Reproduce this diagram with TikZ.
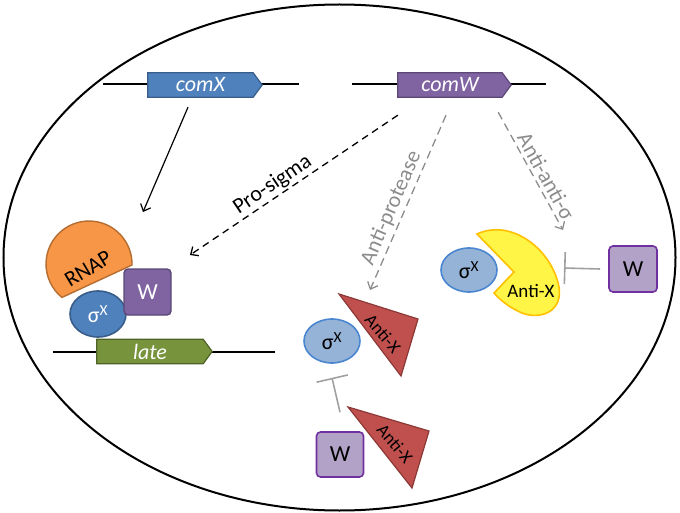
\documentclass[tikz,border=0pt]{standalone}
\usepackage{fontspec}
\setmainfont{Carlito}
\usetikzlibrary{arrows.meta,calc,shapes.geometric,backgrounds}
\definecolor{comxblue}{RGB}{79,129,189}
\definecolor{comxline}{RGB}{56,93,138}
\definecolor{comwpurple}{RGB}{128,100,162}
\definecolor{comwline}{RGB}{92,71,118}
\definecolor{lategreen}{RGB}{119,147,60}
\definecolor{lateline}{RGB}{79,98,40}
\definecolor{rnaporange}{RGB}{247,150,70}
\definecolor{rnapline}{RGB}{182,109,49}
\definecolor{sigmalight}{RGB}{149,179,215}
\definecolor{sigmaline}{RGB}{74,134,208}
\definecolor{antired}{RGB}{192,80,77}
\definecolor{antiline}{RGB}{140,56,54}
\definecolor{wlight}{RGB}{179,162,199}
\definecolor{wline}{RGB}{112,48,160}
\definecolor{pacyellow}{RGB}{255,245,70}
\definecolor{pacline}{RGB}{255,192,0}
\definecolor{arrowgray}{RGB}{140,140,140}
\definecolor{inhibgray}{RGB}{160,160,160}

\begin{document}
\begin{tikzpicture}[x=1pt,y=1pt,
    gene/.style={minimum height=24, inner sep=0pt, text=white,
      font=\fontsize{22}{22}\selectfont\itshape},
    genebody/.style={line width=1.2pt},
    dnaline/.style={line width=1.4pt},
    sigmadark/.style={ellipse, minimum width=56, minimum height=46, inner sep=0pt,
      fill=comxblue, draw=comxline, line width=1.6pt, text=white,
      font=\fontsize{22}{22}\selectfont},
    sigmapale/.style={ellipse, minimum width=56, minimum height=44, inner sep=0pt,
      fill=sigmalight, draw=sigmaline, line width=1.6pt,
      font=\fontsize{22}{22}\selectfont},
    wdark/.style={rounded corners=4pt, minimum width=47, minimum height=46, inner sep=0pt,
      fill=comwpurple, draw=comwline, line width=1.4pt, text=white,
      font=\fontsize{23}{23}\selectfont},
    wpale/.style={rounded corners=4pt, minimum width=47, minimum height=45, inner sep=0pt,
      fill=wlight, draw=wline, line width=1.6pt,
      font=\fontsize{23}{23}\selectfont},
    antix/.style={fill=antired, draw=antiline, line width=1.2pt},
    antixtext/.style={inner sep=0pt, font=\fontsize{18}{18}\selectfont},
    tip/.style={-{Straight Barb[length=6pt,width=11pt]}},
    prolink/.style={tip, line width=1.3pt, dash pattern=on 7pt off 5pt},
    graylink/.style={tip, arrowgray, line width=1.3pt, dash pattern=on 8pt off 5pt},
    inhib/.style={-{Bar[width=32pt]}, inhibgray, line width=1.6pt},
    linklabel/.style={inner sep=1pt, font=\fontsize{22}{22}\selectfont}]
  \useasboundingbox (0,0) rectangle (680,-513);

  % Cell
  \draw[line width=2pt] (339.5,-257.5) ellipse (336 and 253);

  % Genes
  \node[gene, minimum width=105] (comX) at (200.5,-85) {comX};
  \node[gene, minimum width=104] (comW) at (450,-85) {comW};
  \node[gene, minimum width=106] (late) at (150,-351.5) {late};
  \begin{scope}[on background layer]
    \draw[dnaline] (103,-84) -- (299,-84);
    \draw[dnaline] (352,-84) -- (546,-84);
    \draw[dnaline] (53,-352) -- (275,-352);
    \foreach \g/\c/\l in {comX/comxblue/comxline, comW/comwpurple/comwline, late/lategreen/lateline}
      \draw[genebody, fill=\c, draw=\l] (\g.north west) -- (\g.north east)
        -- ($(\g.east)+(9,0)$) -- (\g.south east) -- (\g.south west) -- cycle;
  \end{scope}

  % RNAP holoenzyme
  \draw[fill=rnaporange, draw=rnapline, line width=1.4pt]
    (132,-265) arc (-1.3:231:43) -- cycle;
  \node[rotate=31, inner sep=0pt, font=\fontsize{22}{22}\selectfont] (rnap) at (88,-269) {RNAP};
  \node[sigmadark] (sigA) at (98,-314) {σ\textsuperscript{X}};
  \node[wdark] (wA) at (147.5,-292) {W};

  % Anti-protease
  \node[sigmapale] (sigB) at (332,-341) {σ\textsuperscript{X}};
  \draw[antix] (339,-294) -- (418,-319) -- (401,-376) -- cycle;
  \node[antixtext, rotate=-50] (antiB) at (383,-334) {Anti-X};
  \node[wpale] (wB) at (340,-454.5) {W};
  \draw[antix] (348,-407) -- (429,-431) -- (412,-488) -- cycle;
  \node[antixtext, rotate=-50] (antiW) at (395,-444) {Anti-X};
  \draw[inhib] ([yshift=19]wB.north) -- ([yshift=-14]sigB.south);

  % Anti-anti-sigma
  \node[sigmapale] (sigC) at (469,-270) {σ\textsuperscript{X}};
  \draw[fill=pacyellow, draw=pacline, line width=1.6pt]
    (477,-234) .. controls (512,-218) and (552,-250) .. (559,-287)
    .. controls (563,-312) and (540,-320) .. (522,-313)
    .. controls (510,-308) and (500,-300) .. (494,-293) -- (514,-272) -- cycle;
  \node[antixtext, font=\fontsize{19}{19}\selectfont] (antiC) at (531,-291) {Anti-X};
  \node[wpale, minimum width=48, minimum height=46] (wC) at (633,-269) {W};
  \coordinate (pacR) at (564,-268);
  \draw[inhib] ([xshift=-8]wC.west) -- (pacR);

  % Links from the genes
  \coordinate (xend) at (143,-212);
  \coordinate (proend) at (190,-255);
  \coordinate (protend) at (370,-290);
  \coordinate (antiend) at (563,-230);
  \draw[tip, line width=1.2pt] ([xshift=-12.5,yshift=-10]comX.south) -- (xend);
  \draw[prolink] ([yshift=-18]comW.south west) -- (proend)
    node[pos=0.57, sloped, above=1pt, linklabel, text=black] {Pro-sigma};
  \draw[graylink] ([xshift=-4,yshift=-18]comW.south) -- (protend)
    node[pos=0.56, sloped, above=2pt, linklabel, text=arrowgray] {Anti-protease};
  \draw[graylink] ([xshift=-4,yshift=-15]comW.south east) -- (antiend)
    node[pos=0.59, sloped, above=2pt, linklabel, text=arrowgray] {Anti-anti-σ};
\end{tikzpicture}
\end{document}
